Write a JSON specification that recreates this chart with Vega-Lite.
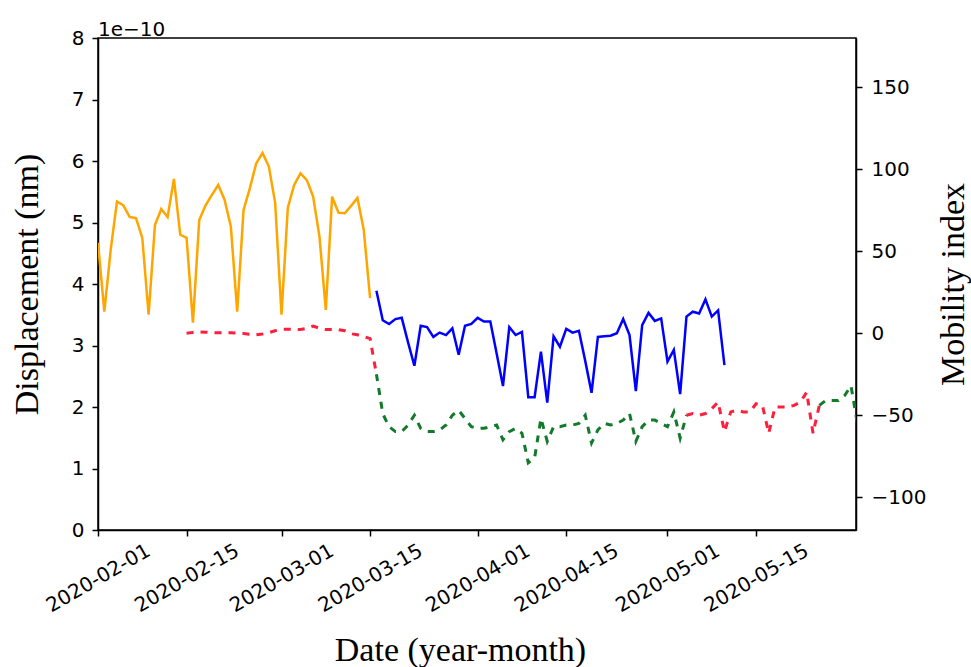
{
  "$schema": "https://vega.github.io/schema/vega-lite/v6.json",
  "width": 758,
  "height": 492,
  "autosize": {"type": "none"},
  "padding": {"left": 98, "top": 38, "right": 115, "bottom": 137},
  "background": "white",
  "title": {"text": "1e−10", "anchor": "start", "frame": "group", "font": "DejaVu Sans", "fontSize": 20, "fontWeight": "normal", "color": "black", "offset": -28, "baseline": "alphabetic"},
  "datasets": {
    "disp": [
      {"date": "2020-02-01", "displacement": 4.67, "segment": "before"},
      {"date": "2020-02-02", "displacement": 3.55, "segment": "before"},
      {"date": "2020-02-03", "displacement": 4.55, "segment": "before"},
      {"date": "2020-02-04", "displacement": 5.34, "segment": "before"},
      {"date": "2020-02-05", "displacement": 5.28, "segment": "before"},
      {"date": "2020-02-06", "displacement": 5.09, "segment": "before"},
      {"date": "2020-02-07", "displacement": 5.07, "segment": "before"},
      {"date": "2020-02-08", "displacement": 4.75, "segment": "before"},
      {"date": "2020-02-09", "displacement": 3.5, "segment": "before"},
      {"date": "2020-02-10", "displacement": 4.96, "segment": "before"},
      {"date": "2020-02-11", "displacement": 5.22, "segment": "before"},
      {"date": "2020-02-12", "displacement": 5.09, "segment": "before"},
      {"date": "2020-02-13", "displacement": 5.71, "segment": "before"},
      {"date": "2020-02-14", "displacement": 4.8, "segment": "before"},
      {"date": "2020-02-15", "displacement": 4.75, "segment": "before"},
      {"date": "2020-02-16", "displacement": 3.37, "segment": "before"},
      {"date": "2020-02-17", "displacement": 5.04, "segment": "before"},
      {"date": "2020-02-18", "displacement": 5.28, "segment": "before"},
      {"date": "2020-02-19", "displacement": 5.45, "segment": "before"},
      {"date": "2020-02-20", "displacement": 5.61, "segment": "before"},
      {"date": "2020-02-21", "displacement": 5.37, "segment": "before"},
      {"date": "2020-02-22", "displacement": 4.93, "segment": "before"},
      {"date": "2020-02-23", "displacement": 3.55, "segment": "before"},
      {"date": "2020-02-24", "displacement": 5.2, "segment": "before"},
      {"date": "2020-02-25", "displacement": 5.56, "segment": "before"},
      {"date": "2020-02-26", "displacement": 5.96, "segment": "before"},
      {"date": "2020-02-27", "displacement": 6.13, "segment": "before"},
      {"date": "2020-02-28", "displacement": 5.91, "segment": "before"},
      {"date": "2020-02-29", "displacement": 5.32, "segment": "before"},
      {"date": "2020-03-01", "displacement": 3.5, "segment": "before"},
      {"date": "2020-03-02", "displacement": 5.24, "segment": "before"},
      {"date": "2020-03-03", "displacement": 5.61, "segment": "before"},
      {"date": "2020-03-04", "displacement": 5.8, "segment": "before"},
      {"date": "2020-03-05", "displacement": 5.69, "segment": "before"},
      {"date": "2020-03-06", "displacement": 5.42, "segment": "before"},
      {"date": "2020-03-07", "displacement": 4.77, "segment": "before"},
      {"date": "2020-03-08", "displacement": 3.58, "segment": "before"},
      {"date": "2020-03-09", "displacement": 5.42, "segment": "before"},
      {"date": "2020-03-10", "displacement": 5.16, "segment": "before"},
      {"date": "2020-03-11", "displacement": 5.15, "segment": "before"},
      {"date": "2020-03-12", "displacement": 5.27, "segment": "before"},
      {"date": "2020-03-13", "displacement": 5.4, "segment": "before"},
      {"date": "2020-03-14", "displacement": 4.88, "segment": "before"},
      {"date": "2020-03-15", "displacement": 3.77, "segment": "before"},
      {"date": "2020-03-16", "displacement": 3.89, "segment": "after"},
      {"date": "2020-03-17", "displacement": 3.41, "segment": "after"},
      {"date": "2020-03-18", "displacement": 3.35, "segment": "after"},
      {"date": "2020-03-19", "displacement": 3.43, "segment": "after"},
      {"date": "2020-03-20", "displacement": 3.45, "segment": "after"},
      {"date": "2020-03-21", "displacement": 3.05, "segment": "after"},
      {"date": "2020-03-22", "displacement": 2.67, "segment": "after"},
      {"date": "2020-03-23", "displacement": 3.32, "segment": "after"},
      {"date": "2020-03-24", "displacement": 3.3, "segment": "after"},
      {"date": "2020-03-25", "displacement": 3.14, "segment": "after"},
      {"date": "2020-03-26", "displacement": 3.21, "segment": "after"},
      {"date": "2020-03-27", "displacement": 3.17, "segment": "after"},
      {"date": "2020-03-28", "displacement": 3.28, "segment": "after"},
      {"date": "2020-03-29", "displacement": 2.85, "segment": "after"},
      {"date": "2020-03-30", "displacement": 3.32, "segment": "after"},
      {"date": "2020-03-31", "displacement": 3.35, "segment": "after"},
      {"date": "2020-04-01", "displacement": 3.45, "segment": "after"},
      {"date": "2020-04-02", "displacement": 3.39, "segment": "after"},
      {"date": "2020-04-03", "displacement": 3.39, "segment": "after"},
      {"date": "2020-04-04", "displacement": 2.87, "segment": "after"},
      {"date": "2020-04-05", "displacement": 2.34, "segment": "after"},
      {"date": "2020-04-06", "displacement": 3.3, "segment": "after"},
      {"date": "2020-04-07", "displacement": 3.17, "segment": "after"},
      {"date": "2020-04-08", "displacement": 3.22, "segment": "after"},
      {"date": "2020-04-09", "displacement": 2.16, "segment": "after"},
      {"date": "2020-04-10", "displacement": 2.16, "segment": "after"},
      {"date": "2020-04-11", "displacement": 2.9, "segment": "after"},
      {"date": "2020-04-12", "displacement": 2.07, "segment": "after"},
      {"date": "2020-04-13", "displacement": 3.15, "segment": "after"},
      {"date": "2020-04-14", "displacement": 2.98, "segment": "after"},
      {"date": "2020-04-15", "displacement": 3.27, "segment": "after"},
      {"date": "2020-04-16", "displacement": 3.21, "segment": "after"},
      {"date": "2020-04-17", "displacement": 3.24, "segment": "after"},
      {"date": "2020-04-18", "displacement": 2.75, "segment": "after"},
      {"date": "2020-04-19", "displacement": 2.23, "segment": "after"},
      {"date": "2020-04-20", "displacement": 3.14, "segment": "after"},
      {"date": "2020-04-21", "displacement": 3.15, "segment": "after"},
      {"date": "2020-04-22", "displacement": 3.16, "segment": "after"},
      {"date": "2020-04-23", "displacement": 3.2, "segment": "after"},
      {"date": "2020-04-24", "displacement": 3.43, "segment": "after"},
      {"date": "2020-04-25", "displacement": 3.17, "segment": "after"},
      {"date": "2020-04-26", "displacement": 2.26, "segment": "after"},
      {"date": "2020-04-27", "displacement": 3.33, "segment": "after"},
      {"date": "2020-04-28", "displacement": 3.53, "segment": "after"},
      {"date": "2020-04-29", "displacement": 3.4, "segment": "after"},
      {"date": "2020-04-30", "displacement": 3.44, "segment": "after"},
      {"date": "2020-05-01", "displacement": 2.74, "segment": "after"},
      {"date": "2020-05-02", "displacement": 2.93, "segment": "after"},
      {"date": "2020-05-03", "displacement": 2.21, "segment": "after"},
      {"date": "2020-05-04", "displacement": 3.47, "segment": "after"},
      {"date": "2020-05-05", "displacement": 3.55, "segment": "after"},
      {"date": "2020-05-06", "displacement": 3.52, "segment": "after"},
      {"date": "2020-05-07", "displacement": 3.75, "segment": "after"},
      {"date": "2020-05-08", "displacement": 3.47, "segment": "after"},
      {"date": "2020-05-09", "displacement": 3.57, "segment": "after"},
      {"date": "2020-05-10", "displacement": 2.68, "segment": "after"}
    ],
    "mob": [
      {"date": "2020-02-15", "mobility": 0, "segment": "s1"},
      {"date": "2020-02-16", "mobility": 0.5, "segment": "s1"},
      {"date": "2020-02-17", "mobility": 0.8, "segment": "s1"},
      {"date": "2020-02-18", "mobility": 0.6, "segment": "s1"},
      {"date": "2020-02-19", "mobility": 0.3, "segment": "s1"},
      {"date": "2020-02-20", "mobility": 0.2, "segment": "s1"},
      {"date": "2020-02-21", "mobility": 0.2, "segment": "s1"},
      {"date": "2020-02-22", "mobility": 0.2, "segment": "s1"},
      {"date": "2020-02-23", "mobility": 0, "segment": "s1"},
      {"date": "2020-02-24", "mobility": -0.2, "segment": "s1"},
      {"date": "2020-02-25", "mobility": -0.6, "segment": "s1"},
      {"date": "2020-02-26", "mobility": -1, "segment": "s1"},
      {"date": "2020-02-27", "mobility": -0.5, "segment": "s1"},
      {"date": "2020-02-28", "mobility": 0.3, "segment": "s1"},
      {"date": "2020-02-29", "mobility": 1.5, "segment": "s1"},
      {"date": "2020-03-01", "mobility": 2.4, "segment": "s1"},
      {"date": "2020-03-02", "mobility": 2.4, "segment": "s1"},
      {"date": "2020-03-03", "mobility": 2.3, "segment": "s1"},
      {"date": "2020-03-04", "mobility": 2.2, "segment": "s1"},
      {"date": "2020-03-05", "mobility": 3, "segment": "s1"},
      {"date": "2020-03-06", "mobility": 4.3, "segment": "s1"},
      {"date": "2020-03-07", "mobility": 3, "segment": "s1"},
      {"date": "2020-03-08", "mobility": 2.2, "segment": "s1"},
      {"date": "2020-03-09", "mobility": 2.2, "segment": "s1"},
      {"date": "2020-03-10", "mobility": 2.2, "segment": "s1"},
      {"date": "2020-03-11", "mobility": 1.5, "segment": "s1"},
      {"date": "2020-03-12", "mobility": -0.3, "segment": "s1"},
      {"date": "2020-03-13", "mobility": -1, "segment": "s1"},
      {"date": "2020-03-14", "mobility": -2, "segment": "s1"},
      {"date": "2020-03-15", "mobility": -3.3, "segment": "s1"},
      {"date": "2020-03-16", "mobility": -25, "segment": "s1"},
      {"date": "2020-03-16", "mobility": -25, "segment": "s2"},
      {"date": "2020-03-17", "mobility": -49, "segment": "s2"},
      {"date": "2020-03-18", "mobility": -57, "segment": "s2"},
      {"date": "2020-03-19", "mobility": -60, "segment": "s2"},
      {"date": "2020-03-20", "mobility": -60, "segment": "s2"},
      {"date": "2020-03-21", "mobility": -56, "segment": "s2"},
      {"date": "2020-03-22", "mobility": -50, "segment": "s2"},
      {"date": "2020-03-23", "mobility": -58, "segment": "s2"},
      {"date": "2020-03-24", "mobility": -60, "segment": "s2"},
      {"date": "2020-03-25", "mobility": -60, "segment": "s2"},
      {"date": "2020-03-26", "mobility": -59, "segment": "s2"},
      {"date": "2020-03-27", "mobility": -56, "segment": "s2"},
      {"date": "2020-03-28", "mobility": -50, "segment": "s2"},
      {"date": "2020-03-29", "mobility": -47, "segment": "s2"},
      {"date": "2020-03-30", "mobility": -52, "segment": "s2"},
      {"date": "2020-03-31", "mobility": -57, "segment": "s2"},
      {"date": "2020-04-01", "mobility": -58, "segment": "s2"},
      {"date": "2020-04-02", "mobility": -58, "segment": "s2"},
      {"date": "2020-04-03", "mobility": -57, "segment": "s2"},
      {"date": "2020-04-04", "mobility": -56, "segment": "s2"},
      {"date": "2020-04-05", "mobility": -65, "segment": "s2"},
      {"date": "2020-04-06", "mobility": -60, "segment": "s2"},
      {"date": "2020-04-07", "mobility": -58, "segment": "s2"},
      {"date": "2020-04-08", "mobility": -61, "segment": "s2"},
      {"date": "2020-04-09", "mobility": -79, "segment": "s2"},
      {"date": "2020-04-10", "mobility": -76, "segment": "s2"},
      {"date": "2020-04-11", "mobility": -52, "segment": "s2"},
      {"date": "2020-04-12", "mobility": -66, "segment": "s2"},
      {"date": "2020-04-13", "mobility": -57, "segment": "s2"},
      {"date": "2020-04-14", "mobility": -57, "segment": "s2"},
      {"date": "2020-04-15", "mobility": -56, "segment": "s2"},
      {"date": "2020-04-16", "mobility": -56, "segment": "s2"},
      {"date": "2020-04-17", "mobility": -55, "segment": "s2"},
      {"date": "2020-04-18", "mobility": -50, "segment": "s2"},
      {"date": "2020-04-19", "mobility": -67, "segment": "s2"},
      {"date": "2020-04-20", "mobility": -59, "segment": "s2"},
      {"date": "2020-04-21", "mobility": -55, "segment": "s2"},
      {"date": "2020-04-22", "mobility": -56, "segment": "s2"},
      {"date": "2020-04-23", "mobility": -55, "segment": "s2"},
      {"date": "2020-04-24", "mobility": -53, "segment": "s2"},
      {"date": "2020-04-25", "mobility": -49, "segment": "s2"},
      {"date": "2020-04-26", "mobility": -66, "segment": "s2"},
      {"date": "2020-04-27", "mobility": -57, "segment": "s2"},
      {"date": "2020-04-28", "mobility": -53, "segment": "s2"},
      {"date": "2020-04-29", "mobility": -53, "segment": "s2"},
      {"date": "2020-04-30", "mobility": -55, "segment": "s2"},
      {"date": "2020-05-01", "mobility": -57, "segment": "s2"},
      {"date": "2020-05-02", "mobility": -48, "segment": "s2"},
      {"date": "2020-05-03", "mobility": -64, "segment": "s2"},
      {"date": "2020-05-04", "mobility": -50, "segment": "s2"},
      {"date": "2020-05-04", "mobility": -50, "segment": "s3"},
      {"date": "2020-05-05", "mobility": -49, "segment": "s3"},
      {"date": "2020-05-06", "mobility": -50, "segment": "s3"},
      {"date": "2020-05-07", "mobility": -49, "segment": "s3"},
      {"date": "2020-05-08", "mobility": -46, "segment": "s3"},
      {"date": "2020-05-09", "mobility": -42, "segment": "s3"},
      {"date": "2020-05-10", "mobility": -60, "segment": "s3"},
      {"date": "2020-05-11", "mobility": -48, "segment": "s3"},
      {"date": "2020-05-12", "mobility": -47, "segment": "s3"},
      {"date": "2020-05-13", "mobility": -48, "segment": "s3"},
      {"date": "2020-05-14", "mobility": -48, "segment": "s3"},
      {"date": "2020-05-15", "mobility": -43, "segment": "s3"},
      {"date": "2020-05-16", "mobility": -44, "segment": "s3"},
      {"date": "2020-05-17", "mobility": -61, "segment": "s3"},
      {"date": "2020-05-18", "mobility": -45, "segment": "s3"},
      {"date": "2020-05-19", "mobility": -45, "segment": "s3"},
      {"date": "2020-05-20", "mobility": -45, "segment": "s3"},
      {"date": "2020-05-21", "mobility": -44, "segment": "s3"},
      {"date": "2020-05-22", "mobility": -42, "segment": "s3"},
      {"date": "2020-05-23", "mobility": -36, "segment": "s3"},
      {"date": "2020-05-24", "mobility": -61, "segment": "s3"},
      {"date": "2020-05-25", "mobility": -44, "segment": "s3"},
      {"date": "2020-05-25", "mobility": -44, "segment": "s4"},
      {"date": "2020-05-26", "mobility": -41, "segment": "s4"},
      {"date": "2020-05-27", "mobility": -41, "segment": "s4"},
      {"date": "2020-05-28", "mobility": -41, "segment": "s4"},
      {"date": "2020-05-29", "mobility": -38, "segment": "s4"},
      {"date": "2020-05-30", "mobility": -32, "segment": "s4"},
      {"date": "2020-05-31", "mobility": -55, "segment": "s4"}
    ]
  },
  "layer": [
    {
      "data": {"name": "disp"},
      "mark": {"type": "line", "strokeWidth": 2.5, "clip": true},
      "encoding": {
        "x": {
          "field": "date", "type": "temporal",
          "scale": {"type": "utc", "domain": [{"year": 2020, "month": 2, "date": 1, "utc": true}, {"year": 2020, "month": 5, "date": 30, "hours": 19, "utc": true}]},
          "axis": {
            "values": [
              {"year": 2020, "month": 2, "date": 1, "utc": true},
              {"year": 2020, "month": 2, "date": 15, "utc": true},
              {"year": 2020, "month": 3, "date": 1, "utc": true},
              {"year": 2020, "month": 3, "date": 15, "utc": true},
              {"year": 2020, "month": 4, "date": 1, "utc": true},
              {"year": 2020, "month": 4, "date": 15, "utc": true},
              {"year": 2020, "month": 5, "date": 1, "utc": true},
              {"year": 2020, "month": 5, "date": 15, "utc": true}
            ],
            "format": "%Y-%m-%d",
            "labelAngle": -30,
            "labelAlign": "center",
            "labelBaseline": "middle",
            "labelPadding": 42,
            "labelOverlap": false,
            "labelFlush": false,
            "title": "Date (year-month)",
            "titleX": 362,
            "titleY": 130,
            "titleAlign": "center",
            "titleBaseline": "alphabetic"
          }
        },
        "y": {
          "field": "displacement", "type": "quantitative",
          "scale": {"domain": [0, 8], "nice": false, "zero": false},
          "axis": {
            "values": [0, 1, 2, 3, 4, 5, 6, 7, 8],
            "format": "d",
            "labelPadding": 8,
            "title": "Displacement (nm)",
            "titleAngle": -90,
            "titleX": -61,
            "titleY": 246,
            "titleAlign": "center",
            "titleBaseline": "alphabetic"
          }
        },
        "color": {"field": "segment", "type": "nominal", "scale": {"domain": ["before", "after"], "range": ["#ffa500", "#0000ff"]}, "legend": null}
      }
    },
    {
      "data": {"name": "mob"},
      "mark": {"type": "line", "strokeWidth": 3, "strokeDash": [7, 7], "clip": true},
      "encoding": {
        "x": {"field": "date", "type": "temporal"},
        "y": {
          "field": "mobility", "type": "quantitative",
          "scale": {"domain": [-120, 180], "nice": false, "zero": false},
          "axis": {
            "orient": "right",
            "values": [-100, -50, 0, 50, 100, 150],
            "format": "d",
            "labelPadding": 9,
            "title": "Mobility index",
            "titleAngle": -90,
            "titleX": 107,
            "titleY": 246,
            "titleAlign": "center",
            "titleBaseline": "alphabetic"
          }
        },
        "color": {"field": "segment", "type": "nominal", "scale": {"domain": ["s1", "s2", "s3", "s4"], "range": ["#ff1f3d", "#137a2c", "#ff1f3d", "#137a2c"]}, "legend": null}
      }
    }
  ],
  "resolve": {"scale": {"y": "independent", "color": "independent"}},
  "config": {
    "view": {"stroke": "black", "strokeWidth": 1.5},
    "axis": {
      "domainColor": "black", "domainWidth": 1.5,
      "tickColor": "black", "tickWidth": 1.5, "tickSize": 6,
      "labelFont": "DejaVu Sans", "labelFontSize": 20, "labelColor": "black",
      "titleFont": "Liberation Serif", "titleFontSize": 34, "titleFontWeight": "normal", "titleColor": "black",
      "grid": false
    }
  }
}
